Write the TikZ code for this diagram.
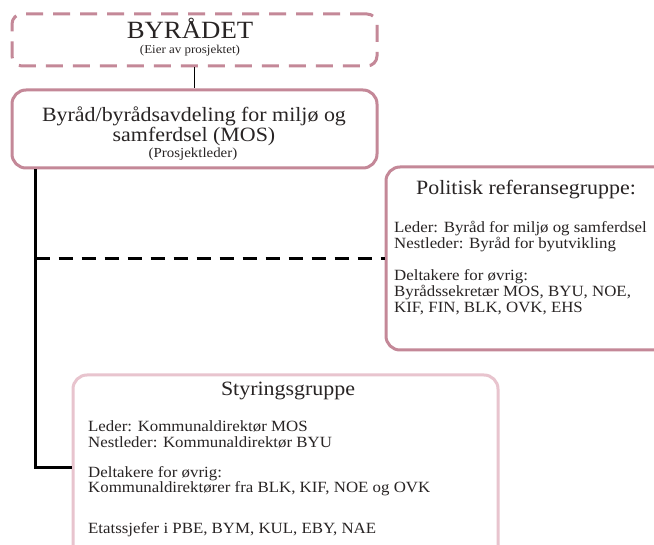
\documentclass[tikz,border=0pt]{standalone}
\usepackage{fontspec}
\setmainfont[FakeStretch=1.08]{Liberation Serif}
\definecolor{rose}{RGB}{196,136,152}
\definecolor{blush}{RGB}{232,196,206}
\definecolor{ink}{RGB}{40,36,36}
\begin{document}
\begin{tikzpicture}[x=1pt,y=-1pt,
  box/.style={draw=rose,line width=3pt,rounded corners=14pt,inner sep=0pt},
  headline/.style={font=\fontsize{20.3}{21}\selectfont,text=ink,inner sep=0pt,anchor=base},
  subline/.style={font=\fontsize{13}{14}\selectfont,text=ink,inner sep=0pt,anchor=base},
  bodyline/.style={font=\fontsize{15.6}{16}\selectfont,text=ink,inner sep=0pt,anchor=base west},
  link/.style={draw=black,line width=1.5pt},
  trunk/.style={draw=black,line width=3pt}]
\useasboundingbox (0,0) rectangle (654,545);
\clip (0,0) rectangle (654,545);
\fill[white] (0,0) rectangle (654,545);

% owner
\node[box,dashed,dash pattern=on 17pt off 10pt,rounded corners=10pt,
      minimum width=365pt,minimum height=52pt] (byr) at (194.5,40) {};
\node[font=\fontsize{24.8}{25}\selectfont,text=ink,inner sep=0pt,anchor=base] (byrt) at (190,39) {BYRÅDET};
\node[subline,font=\fontsize{12}{13}\selectfont] (byrs) at (190,54) {(Eier av prosjektet)};

% project leader
\node[box,minimum width=365pt,minimum height=78pt] (mos) at (194.5,129) {};
\node[headline] (mos1) at (194,122) {Byråd/byrådsavdeling for miljø og};
\node[headline] (mos2) at (194,142) {samferdsel (MOS)};
\node[subline,font=\fontsize{13.8}{14}\selectfont] (mos3) at (193,157.5) {(Prosjektleder)};

% political reference group
\node[box,minimum width=304pt,minimum height=183pt] (pol) at (538,258.5) {};
\node[headline] (pol0) at (526,195) {Politisk referansegruppe:};
\node[bodyline] (pol1) at (394,233) {Leder: Byråd for miljø og samferdsel};
\node[bodyline] (pol2) at (394,249) {Nestleder: Byråd for byutvikling};
\node[bodyline] (pol3) at (394,281) {Deltakere for øvrig:};
\node[bodyline] (pol4) at (394,297) {Byrådssekretær MOS, BYU, NOE,};
\node[bodyline] (pol5) at (394,312.5) {KIF, FIN, BLK, OVK, EHS};

% steering group
\node[box,draw=blush,minimum width=425pt,minimum height=186pt] (styr) at (285.5,468) {};
\node[headline] (sty0) at (288,396) {Styringsgruppe};
\node[bodyline] (sty1) at (88,432) {Leder: Kommunaldirektør MOS};
\node[bodyline] (sty2) at (88,448) {Nestleder: Kommunaldirektør BYU};
\node[bodyline] (sty3) at (88,477.5) {Deltakere for øvrig:};
\node[bodyline] (sty4) at (88,493) {Kommunaldirektører fra BLK, KIF, NOE og OVK};
\node[bodyline] (sty5) at (88,533.5) {Etatssjefer i PBE, BYM, KUL, EBY, NAE};

% connectors
\draw[link] (byr.south) -- (mos.north);
\coordinate (top) at ([xshift=25pt]mos.south west);
\coordinate (tee) at (top |- pol.west);
\draw[trunk] (top) |- (styr.west);
\draw[trunk,dash pattern=on 14pt off 9pt] (tee) -- (pol.west);
\end{tikzpicture}
\end{document}
